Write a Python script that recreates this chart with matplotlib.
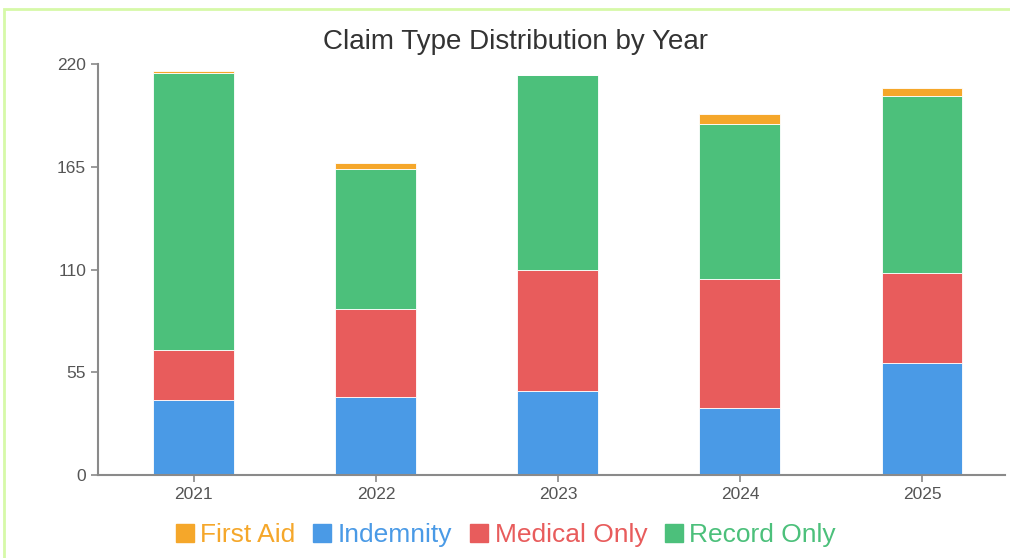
import matplotlib.pyplot as plt
from matplotlib.lines import Line2D
from matplotlib.patches import Rectangle
import numpy as np

# Data
years = ['2021', '2022', '2023', '2024', '2025']
indemnity = [40, 42, 45, 36, 60]
medical_only = [27, 47, 65, 69, 48]
record_only = [148, 75, 104, 83, 95]
first_aid = [1, 3, 0, 5, 4]
y_ticks = [0, 55, 110, 165, 220]

colors = {
    'First Aid': '#F5A72A',
    'Indemnity': '#4A9AE6',
    'Medical Only': '#E85C5C',
    'Record Only': '#4CC07B',
}

plt.rcParams['font.family'] = ['Liberation Sans', 'DejaVu Sans']

fig = plt.figure(figsize=(10.1, 5.58), dpi=100)
fig.patch.set_facecolor('white')

# light green frame around the chart
fig.patches.append(Rectangle((4 / 1010, -0.05), 1.2, 1.05 - 9 / 558,
                             transform=fig.transFigure, fill=False,
                             edgecolor='#d6f9a8', linewidth=2))

ax = fig.add_axes([98 / 1010, 1 - 475 / 558, (1005 - 98) / 1010, (475 - 64) / 558])

x = np.arange(len(years))
w = 0.445
bottom = np.zeros(len(years))
for name, vals in [('Indemnity', indemnity), ('Medical Only', medical_only),
                   ('Record Only', record_only), ('First Aid', first_aid)]:
    ax.bar(x, vals, w, bottom=bottom, color=colors[name],
           edgecolor='white', linewidth=0.6)
    bottom += np.array(vals)

ax.set_xlim(-0.527, 4.456)
ax.set_ylim(0, 220)
ax.set_yticks(y_ticks)
ax.set_xticks(x)
ax.set_xticklabels(years)

for s in ['top', 'right']:
    ax.spines[s].set_visible(False)
for s in ['left', 'bottom']:
    ax.spines[s].set_color('#8a8a8a')
    ax.spines[s].set_linewidth(1.5)
ax.tick_params(colors='#8a8a8a', labelcolor='#555555', labelsize=12.5,
               length=5, width=1.2)

fig.text(0.51, 1 - 42 / 558, 'Claim Type Distribution by Year', ha='center',
         va='center', fontsize=20, color='#333333')

order = ['First Aid', 'Indemnity', 'Medical Only', 'Record Only']
handles = [Line2D([], [], marker='s', linestyle='none', markersize=13,
                  markerfacecolor=colors[n], markeredgecolor=colors[n]) for n in order]
leg = fig.legend(handles, order, loc='center', bbox_to_anchor=(0.5, 1 - 535 / 558),
                 ncol=4, frameon=False, fontsize=19, handlelength=0.8,
                 handletextpad=0.2, columnspacing=0.6)
for t, n in zip(leg.get_texts(), order):
    t.set_color(colors[n])

fig.savefig('out.png', dpi=100)
